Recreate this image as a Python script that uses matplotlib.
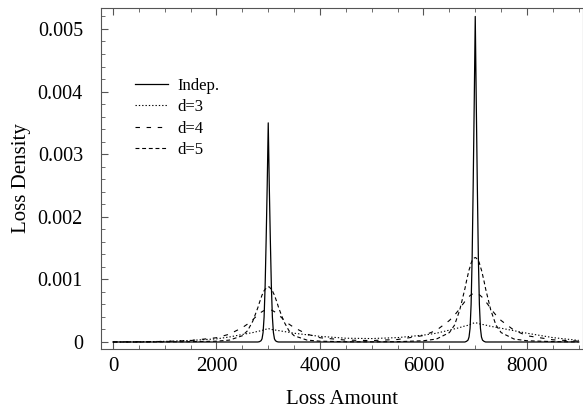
import numpy as np
import matplotlib
matplotlib.use('Agg')
import matplotlib.pyplot as plt
from matplotlib.ticker import MultipleLocator, FuncFormatter

plt.rcParams.update({"font.family": "Liberation Serif", "font.size": 15})

# loss grid (shared by all curves)
loss = [0, 500, 1000, 1500, 2000, 2250, 2500, 2600, 2700, 2750, 2800, 2830, 2860,
        2880, 2900, 2920, 2940, 2960, 2980, 3000, 3020, 3040, 3060, 3080, 3100,
        3120, 3140, 3170, 3200, 3250, 3300, 3400, 3500, 3750, 4000, 4500, 5000,
        5500, 6000, 6250, 6500, 6600, 6700, 6750, 6800, 6830, 6860, 6880, 6900,
        6920, 6940, 6960, 6980, 7000, 7020, 7040, 7060, 7080, 7100, 7120, 7140,
        7170, 7200, 7250, 7300, 7400, 7500, 7750, 8000, 8500, 9000]

indep = [0, 0, 0, 0, 0, 0, 0, 0, 0, 0, 0, 0.000005, 0.00002,
         0.00005, 0.00015, 0.0004, 0.0009, 0.00165, 0.0025, 0.0035, 0.0025, 0.00165, 0.0009, 0.0004, 0.00015,
         0.00005, 0.00002, 0.000005, 0, 0, 0, 0, 0, 0, 0, 0, 0,
         0, 0, 0, 0, 0, 0, 0, 0, 0.00001, 0.00003, 0.00008, 0.00022,
         0.0006, 0.00135, 0.0025, 0.0038, 0.0052, 0.0038, 0.0025, 0.00135, 0.0006, 0.00022, 0.00008, 0.00003,
         0.00001, 0, 0, 0, 0, 0, 0, 0, 0, 0]

d3 = [0, 0.000003, 0.00001, 0.000025, 0.00005, 0.00008, 0.00012, 0.000135, 0.00015, 0.00016, 0.00017, 0.000175, 0.00018,
      0.000185, 0.00019, 0.000195, 0.0002, 0.000205, 0.00021, 0.000215, 0.00021, 0.000205, 0.0002, 0.000198, 0.000196,
      0.000194, 0.00019, 0.000186, 0.000182, 0.000175, 0.000168, 0.000155, 0.00014, 0.000115, 0.00009, 0.00006, 0.000055,
      0.00007, 0.00011, 0.00014, 0.00019, 0.00021, 0.00023, 0.000245, 0.000255, 0.00026, 0.000268, 0.000275, 0.00028,
      0.000287, 0.000293, 0.0003, 0.000305, 0.000308, 0.000305, 0.0003, 0.000295, 0.00029, 0.000287, 0.000283, 0.00028,
      0.000275, 0.00027, 0.00026, 0.00025, 0.000235, 0.00022, 0.00018, 0.00014, 0.00007, 0.000025]

d4 = [0.000001, 0.000003, 0.000009, 0.000023, 0.000068, 0.000125, 0.00023, 0.000286, 0.000354, 0.000395, 0.000432, 0.000452, 0.000473,
      0.000484, 0.000494, 0.000502, 0.00051, 0.000515, 0.000519, 0.00052, 0.000519, 0.000515, 0.00051, 0.000502, 0.000494,
      0.000484, 0.000473, 0.000452, 0.000432, 0.000395, 0.000354, 0.000286, 0.00023, 0.000125, 0.000068, 0.00003, 0.000023,
      0.00004, 0.000103, 0.000187, 0.000343, 0.000429, 0.00053, 0.000593, 0.000647, 0.000679, 0.00071,
      0.000725, 0.000741, 0.000753, 0.000764, 0.000772, 0.000778, 0.00078, 0.000778, 0.000772, 0.000764, 0.000753, 0.000741,
      0.000725, 0.00071, 0.000679, 0.000647, 0.000593, 0.00053, 0.000429, 0.000343, 0.000187, 0.0001, 0.000035, 0.000014]

d5 = [0, 0, 0.000002, 0.000005, 0.000013, 0.00003, 0.0001, 0.00018, 0.00033, 0.00044, 0.00055, 0.00063, 0.0007,
      0.00075, 0.00078, 0.00082, 0.00084, 0.00086, 0.00088, 0.00088, 0.00088, 0.00086, 0.00084, 0.00082, 0.00078,
      0.00075, 0.0007, 0.00063, 0.00055, 0.00044, 0.00033, 0.00018, 0.0001, 0.00003, 0.000013, 0.000004, 0.000003,
      0.000005, 0.00002, 0.000047, 0.00015, 0.00027, 0.00051, 0.00068, 0.00085, 0.00097, 0.00108,
      0.00115, 0.0012, 0.00126, 0.0013, 0.00132, 0.00134, 0.00135, 0.00134, 0.00132, 0.0013, 0.00126, 0.0012,
      0.00115, 0.00108, 0.00097, 0.00085, 0.00068, 0.00051, 0.00027, 0.00015, 0.000047, 0.00002, 0.000006, 0.000002]

labels = ["Indep.", "d=3", "d=4", "d=5"]

fig = plt.figure(figsize=(5.83, 4.08), dpi=100)
ax = fig.add_axes([0.1732, 0.1446, 0.8268, 0.8358])

lw = 0.8
ax.plot(loss, indep, color='black', lw=0.9, label=labels[0])
ax.plot(loss, d3, color='black', lw=lw, dashes=(1.2, 1.8), label=labels[1])
ax.plot(loss, d4, color='black', lw=lw, dashes=(4, 6), label=labels[2])
ax.plot(loss, d5, color='black', lw=lw, dashes=(3.5, 2.5), label=labels[3])

ax.set_xlim(-232, 9082)
ax.set_ylim(-0.000112, 0.005335)

ax.xaxis.set_major_locator(MultipleLocator(2000))
ax.xaxis.set_minor_locator(MultipleLocator(500))
ax.yaxis.set_major_locator(MultipleLocator(0.001))
ax.yaxis.set_minor_locator(MultipleLocator(0.0002))
ax.yaxis.set_major_formatter(FuncFormatter(lambda v, p: '0' if abs(v) < 1e-9 else '%.3f' % v))

ax.tick_params(which='both', direction='in', top=True, right=False, color='#555555')
ax.tick_params(which='major', length=5, width=0.8)
ax.tick_params(which='minor', length=3, width=0.6)
ax.tick_params(axis='y', pad=13, labelsize=14.5)
ax.tick_params(axis='x', pad=6)
for s in ax.spines.values():
    s.set_color('#555555')
    s.set_linewidth(0.8)

ax.set_xlabel("Loss Amount", labelpad=10)
ax.set_ylabel("Loss Density", labelpad=5)

ax.legend(loc='upper left', bbox_to_anchor=(135 / 583, 1 - 78 / 408), bbox_transform=fig.transFigure,
          frameon=False, fontsize=12, handlelength=2.0, handletextpad=0.55, labelspacing=0.32, borderpad=0,
          borderaxespad=0)

fig.savefig("out.png", dpi=100)
